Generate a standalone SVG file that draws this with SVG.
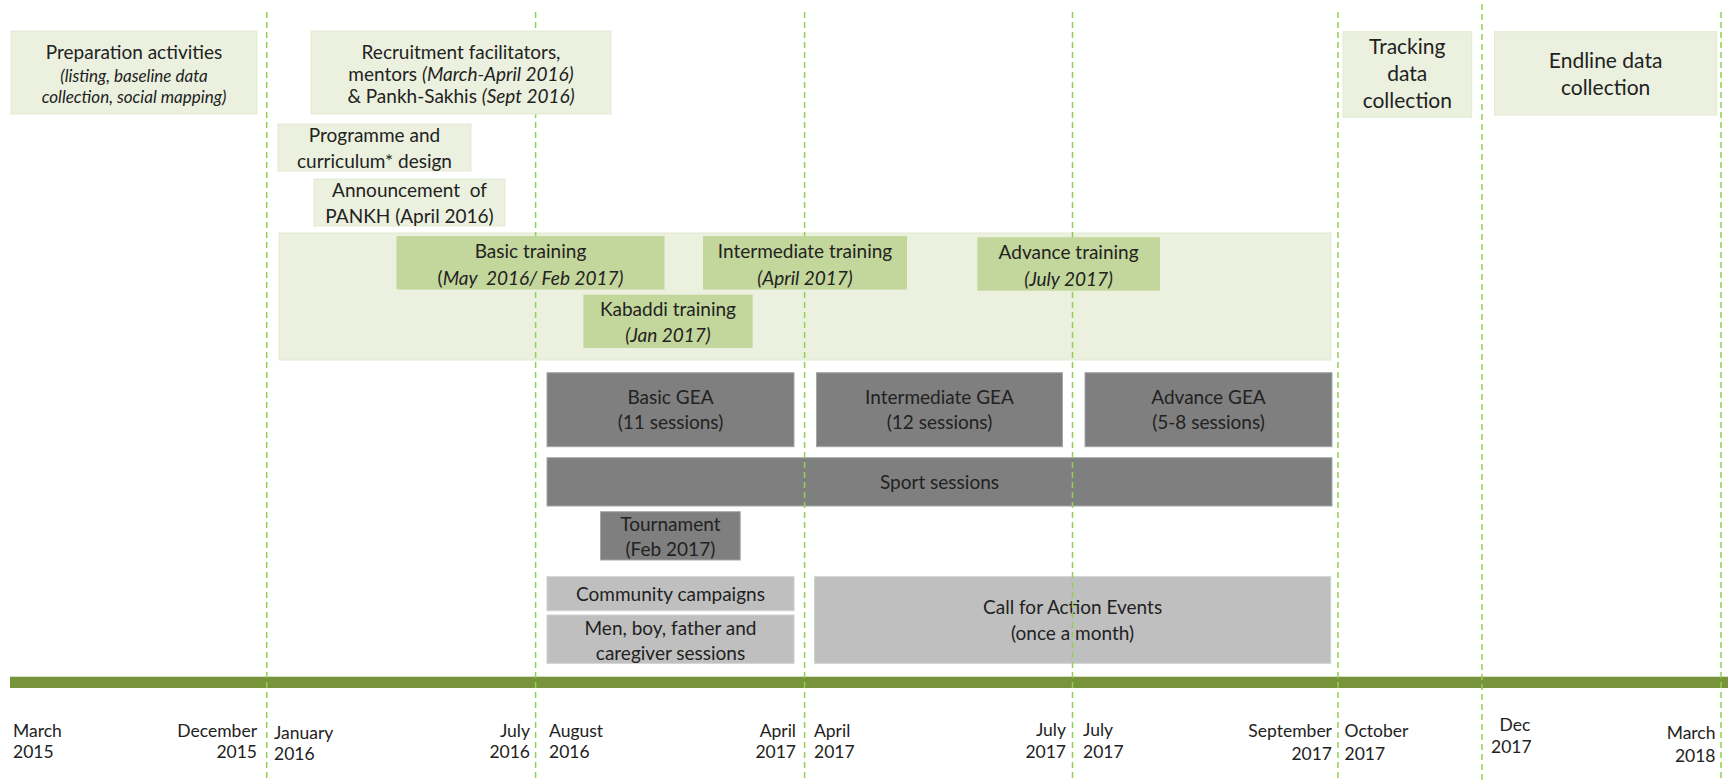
<svg xmlns="http://www.w3.org/2000/svg" width="1728" height="780" viewBox="0 0 1728 780">
<style>
text{font-family:Lato,"Open Sans","Liberation Sans",sans-serif;fill:#222;}
.c{text-anchor:middle;font-size:19px;}
.big{text-anchor:middle;font-size:21px;}
.it{font-style:italic;}
.sm{text-anchor:middle;font-size:17px;font-style:italic;}
.d{font-size:17.5px;}
.e{text-anchor:end;}
.lg{fill:#EBF1DE;stroke:#E2EAD3;stroke-width:1;}
.tr{fill:#C3D69B;}
.dk{fill:#7F7F7F;stroke:#A6A6A6;stroke-width:1;}
.gy{fill:#BFBFBF;stroke:#D0D0D0;stroke-width:1;}
.grid{stroke:#92D050;stroke-width:1.5;stroke-dasharray:6 4;fill:none;}
</style>
<rect width="1728" height="780" fill="#ffffff"/>

<g id="training-band"><rect class="lg" x="279" y="233" width="1052" height="127"/></g>

<g id="basic-gea"><rect class="dk" x="547" y="372.7" width="247" height="74"/>
<text class="c" x="670.5" y="404">Basic GEA</text><text class="c" x="670.5" y="429">(11 sessions)</text></g>
<g id="intermediate-gea"><rect class="dk" x="816.5" y="372.7" width="246" height="74"/>
<text class="c" x="939.5" y="404">Intermediate GEA</text><text class="c" x="939.5" y="429">(12 sessions)</text></g>
<g id="advance-gea"><rect class="dk" x="1085" y="372.7" width="247" height="74"/>
<text class="c" x="1208.5" y="404">Advance GEA</text><text class="c" x="1208.5" y="429">(5-8 sessions)</text></g>
<g id="sport-sessions"><rect class="dk" x="547" y="457.7" width="785" height="48.3"/>
<text class="c" x="939.5" y="489">Sport sessions</text></g>
<g id="tournament"><rect class="dk" x="600.5" y="511.7" width="139.7" height="48.3"/>
<text class="c" x="670.4" y="531">Tournament</text><text class="c" x="670.4" y="555.5">(Feb 2017)</text></g>
<g id="community-campaigns"><rect class="gy" x="547" y="576.7" width="247" height="34"/>
<text class="c" x="670.5" y="600.5">Community campaigns</text></g>
<g id="men-boy-sessions"><rect class="gy" x="547" y="615" width="247" height="48.3"/>
<text class="c" x="670.5" y="634.5">Men, boy, father and</text><text class="c" x="670.5" y="660">caregiver sessions</text></g>
<g id="call-for-action"><rect class="gy" x="814.5" y="576.7" width="516.2" height="86.6"/>
<text class="c" x="1072.6" y="614">Call for Action Events</text><text class="c" x="1072.6" y="640">(once a month)</text></g>

<g id="timeline-bar"><rect x="10" y="676.7" width="1718" height="11.3" fill="#77933C"/></g>

<g id="connectors">
<line class="grid" x1="266.7" y1="12" x2="266.7" y2="780"/>
<line class="grid" x1="535.6" y1="12" x2="535.6" y2="780"/>
<line class="grid" x1="804.6" y1="12" x2="804.6" y2="780"/>
<line class="grid" x1="1072.5" y1="12" x2="1072.5" y2="780"/>
<line class="grid" x1="1338" y1="12" x2="1338" y2="780"/>
<line class="grid" x1="1482" y1="4" x2="1482" y2="780"/>
<line class="grid" x1="1721" y1="12" x2="1721" y2="780"/>
</g>

<g id="preparation"><rect class="lg" x="11" y="31" width="246" height="83"/>
<text class="c" x="134" y="59">Preparation activities</text>
<text class="sm" x="134" y="82">(listing, baseline data</text>
<text class="sm" x="134" y="103">collection, social mapping)</text></g>
<g id="recruitment"><rect class="lg" x="311" y="31" width="300" height="83"/>
<text class="c" x="461" y="59">Recruitment facilitators,</text>
<text class="c" x="461" y="80.5">mentors <tspan class="it">(March-April 2016)</tspan></text>
<text class="c" x="461" y="102.5">&amp; Pankh-Sakhis <tspan class="it">(Sept 2016)</tspan></text></g>
<g id="programme-design"><rect class="lg" x="278" y="124" width="193" height="47"/>
<text class="c" x="374.5" y="141.5">Programme and</text>
<text class="c" x="374.5" y="167.5">curriculum* design</text></g>
<g id="announcement"><rect class="lg" x="314" y="179" width="191" height="47"/>
<text class="c" x="409.5" y="197" xml:space="preserve">Announcement  of</text>
<text class="c" x="409.5" y="223">PANKH (April 2016)</text></g>
<g id="tracking"><rect class="lg" x="1343" y="31.7" width="128.6" height="85.6"/>
<text class="big" x="1407.3" y="54">Tracking</text>
<text class="big" x="1407.3" y="81">data</text>
<text class="big" x="1407.3" y="108">collection</text></g>
<g id="endline"><rect class="lg" x="1494.5" y="31.7" width="222.2" height="83.3"/>
<text class="big" x="1605.6" y="68">Endline data</text>
<text class="big" x="1605.6" y="95.3">collection</text></g>

<g id="basic-training"><rect class="tr" x="396.5" y="236" width="268" height="53.5"/>
<text class="c" x="530.5" y="258">Basic training</text>
<text class="c" x="530.5" y="284.5" xml:space="preserve">(<tspan class="it">May  2016/ Feb 2017)</tspan></text></g>
<g id="intermediate-training"><rect class="tr" x="703" y="236" width="204" height="53.5"/>
<text class="c" x="805" y="258">Intermediate training</text>
<text class="c it" x="805" y="284.5">(April 2017)</text></g>
<g id="advance-training"><rect class="tr" x="977.3" y="237.3" width="182.7" height="53.4"/>
<text class="c" x="1068.6" y="259">Advance training</text>
<text class="c it" x="1068.6" y="286">(July 2017)</text></g>
<g id="kabaddi-training"><rect class="tr" x="583.4" y="294.7" width="169.3" height="53.3"/>
<text class="c" x="668" y="316">Kabaddi training</text>
<text class="c it" x="668" y="341.5">(Jan 2017)</text></g>

<g id="dates">
<text class="d" x="13" y="737">March</text><text class="d" x="13" y="758">2015</text>
<text class="d e" x="257" y="737">December</text><text class="d e" x="257" y="758">2015</text>
<text class="d" x="274" y="738.5">January</text><text class="d" x="274" y="760">2016</text>
<text class="d e" x="530" y="737">July</text><text class="d e" x="530" y="758">2016</text>
<text class="d" x="549" y="737">August</text><text class="d" x="549" y="758">2016</text>
<text class="d e" x="796" y="737">April</text><text class="d e" x="796" y="758">2017</text>
<text class="d" x="814" y="737">April</text><text class="d" x="814" y="758">2017</text>
<text class="d e" x="1066" y="736">July</text><text class="d e" x="1066" y="758">2017</text>
<text class="d" x="1083" y="736">July</text><text class="d" x="1083" y="758">2017</text>
<text class="d e" x="1332" y="737">September</text><text class="d e" x="1332" y="760">2017</text>
<text class="d" x="1344.5" y="737">October</text><text class="d" x="1344.5" y="760">2017</text>
<text class="d" x="1499.5" y="731">Dec</text><text class="d" x="1491" y="753">2017</text>
<text class="d e" x="1715.5" y="739">March</text><text class="d e" x="1715.5" y="762">2018</text>
</g>
</svg>
